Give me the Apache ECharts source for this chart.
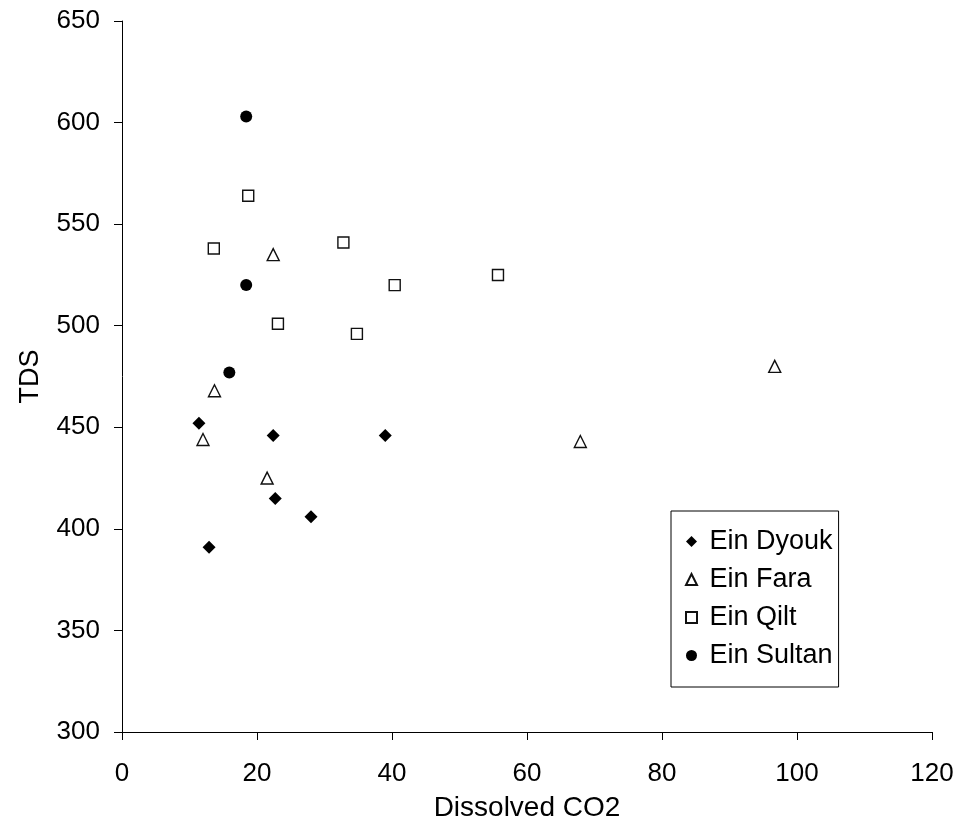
<!DOCTYPE html>
<html><head><meta charset="utf-8">
<script src="https://cdn.jsdelivr.net/npm/echarts@6/dist/echarts.min.js"></script>
<style>html,body{margin:0;padding:0;background:#fff}#c{width:958px;height:833px}</style>
</head><body><div id="c"></div>
<script>
const seriesNames = ['Ein Dyouk', 'Ein Fara', 'Ein Qilt', 'Ein Sultan'];
const dyoukCO2 = [11.4, 22.4, 39.0, 22.7, 28.0, 12.9];
const dyoukTDS = [452, 446, 446, 415, 406, 391];
const faraCO2 = [22.4, 13.7, 12.0, 21.5, 67.9, 96.7];
const faraTDS = [535, 468, 444, 425, 443, 480];
const qiltCO2 = [18.7, 13.6, 32.8, 40.4, 23.1, 34.8, 55.7];
const qiltTDS = [564, 538, 541, 520, 501, 496, 525];
const sultanCO2 = [18.4, 18.4, 15.9];
const sultanTDS = [603, 520, 477];
const xTicks = [0, 20, 40, 60, 80, 100, 120];
const yTicks = [300, 350, 400, 450, 500, 550, 600, 650];

const zip = (a, b) => a.map((v, i) => [v, b[i]]);
const font = 'Liberation Sans, Arial, sans-serif';
const chart = echarts.init(document.getElementById('c'));
const mk = (name, xs, ys, symbol, size, filled) => ({
  name, type: 'scatter', data: zip(xs, ys), symbol, symbolSize: size,
  itemStyle: filled ? {color: '#000', borderColor: '#000', borderWidth: 0, opacity: 1}
                    : {color: '#fff', borderColor: '#111', borderWidth: 1.4, opacity: 1},
  emphasis: {disabled: true}
});
chart.setOption({
  animation: false,
  backgroundColor: '#fff',
  grid: {left: 122, top: 21, width: 810, height: 711, containLabel: false},
  xAxis: {
    type: 'value', min: xTicks[0], max: xTicks[xTicks.length - 1], interval: 20,
    name: 'Dissolved CO2', nameLocation: 'middle', nameGap: 62,
    nameTextStyle: {fontFamily: font, fontSize: 28, color: '#000'},
    axisLine: {show: true, lineStyle: {color: '#000', width: 1}},
    axisTick: {show: true, inside: false, length: 8, lineStyle: {color: '#000'}},
    axisLabel: {fontFamily: font, fontSize: 26, color: '#000', margin: 29},
    splitLine: {show: false}
  },
  yAxis: {
    type: 'value', min: yTicks[0], max: yTicks[yTicks.length - 1], interval: 50,
    name: 'TDS', nameLocation: 'middle', nameGap: 78, nameRotate: 90,
    nameTextStyle: {fontFamily: font, fontSize: 27, color: '#000'},
    axisLine: {show: true, lineStyle: {color: '#000', width: 1}},
    axisTick: {show: true, inside: false, length: 8, lineStyle: {color: '#000'}},
    axisLabel: {fontFamily: font, fontSize: 26, color: '#000', margin: 22},
    splitLine: {show: false}
  },
  legend: {
    orient: 'vertical', left: 671, top: 511,
    padding: [17, 6, 18, 14], itemGap: 11, itemWidth: 11, itemHeight: 11,
    borderColor: '#000', borderWidth: 1, borderRadius: 0,
    formatter: ' {name}',
    textStyle: {fontFamily: font, fontSize: 27, color: '#000'},
    data: seriesNames
  },
  series: [
    mk(seriesNames[0], dyoukCO2, dyoukTDS, 'diamond', 13, true),
    mk(seriesNames[1], faraCO2, faraTDS, 'triangle', 12, false),
    mk(seriesNames[2], qiltCO2, qiltTDS, 'rect', 11, false),
    mk(seriesNames[3], sultanCO2, sultanTDS, 'circle', 12, true)
  ]
});
</script></body></html>
